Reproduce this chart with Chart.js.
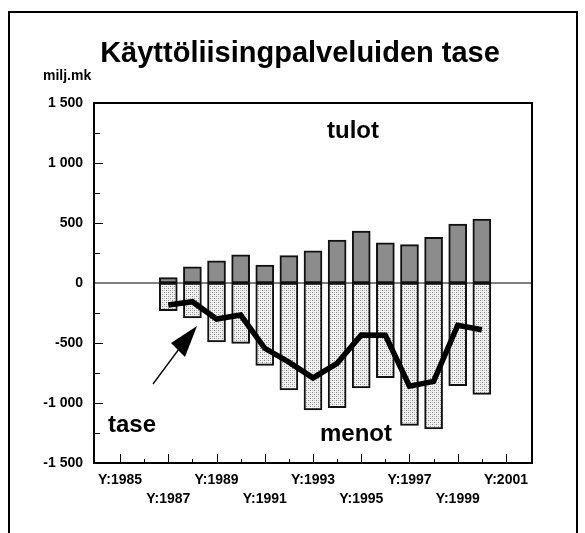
<!DOCTYPE html>
<html>
<head>
<meta charset="utf-8">
<script src="https://cdn.jsdelivr.net/npm/chart.js@4/dist/chart.umd.min.js"></script>
<style>
  html, body { margin: 0; padding: 0; background: #fff; }
  #wrap { width: 585px; height: 533px; }
</style>
</head>
<body>
<div id="wrap"><canvas id="c" width="585" height="533"></canvas></div>
<script>
// Vuodet ja arvot (milj. mk)
const years = [1987, 1988, 1989, 1990, 1991, 1992, 1993, 1994, 1995, 1996, 1997, 1998, 1999, 2000];
const tulot = [45, 135, 185, 235, 150, 228, 268, 358, 432, 335, 320, 380, 490, 532];
const menot = [-230, -292, -490, -503, -686, -892, -1058, -1039, -875, -789, -1186, -1217, -855, -928];
const tase = [-183, -156, -300, -267, -544, -660, -791, -669, -433, -435, -860, -820, -352, -390];

// Akselien jakopisteet
const xTickYears = [1985, 1986, 1987, 1988, 1989, 1990, 1991, 1992, 1993, 1994, 1995, 1996, 1997, 1998, 1999, 2000, 2001];
const yTickStep = 250;
const yLabelStep = 500;

const TITLE = 'Käyttöliisingpalveluiden tase';
const UNIT = 'milj.mk';
const FONT = '"Liberation Sans", Arial, Helvetica, sans-serif';

// Pistekuvio menopylväille
function stipple() {
  const p = document.createElement('canvas');
  p.width = 4; p.height = 4;
  const g = p.getContext('2d');
  g.fillStyle = '#f2f2f2';
  g.fillRect(0, 0, 4, 4);
  g.fillStyle = '#8a8a8a';
  g.fillRect(0, 0, 1, 1);
  g.fillRect(2, 2, 1, 1);
  g.fillStyle = '#c4c4c4';
  g.fillRect(2, 0, 1, 1);
  g.fillRect(0, 2, 1, 1);
  return g.createPattern(p, 'repeat');
}

function fmtThousands(v) {
  const s = String(Math.abs(v)).replace(/\B(?=(\d{3})+(?!\d))/g, ' ');
  return (v < 0 ? '-' : '') + s;
}

// Kehys, otsikko, nollaviiva, sisäänpäin osoittavat jakoviivat ja tekstit
const decorations = {
  id: 'decorations',
  beforeDraw(chart) {
    const ctx = chart.ctx;
    ctx.save();
    ctx.fillStyle = '#fff';
    ctx.fillRect(0, 0, chart.width, chart.height);
    ctx.strokeStyle = '#000';
    ctx.lineWidth = 2;
    ctx.beginPath();
    ctx.moveTo(9, chart.height + 2);
    ctx.lineTo(9, 12);
    ctx.lineTo(577, 12);
    ctx.lineTo(577, chart.height + 2);
    ctx.stroke();

    ctx.fillStyle = '#000';
    ctx.textBaseline = 'alphabetic';
    ctx.textAlign = 'center';
    ctx.font = 'bold 29px ' + FONT;
    ctx.fillText(TITLE, 300, 62);
    ctx.textAlign = 'left';
    ctx.font = 'bold 14px ' + FONT;
    ctx.fillText(UNIT, 43, 80);
    ctx.restore();
  },
  beforeDatasetsDraw(chart) {
    const ctx = chart.ctx;
    const a = chart.chartArea;
    const xs = chart.scales.x, ys = chart.scales.y;
    ctx.save();
    ctx.strokeStyle = '#000';
    ctx.lineWidth = 1.2;
    // nollaviiva
    const y0 = ys.getPixelForValue(0);
    ctx.beginPath();
    ctx.moveTo(a.left, y0);
    ctx.lineTo(a.right, y0);
    ctx.stroke();
    // y-akselin jakoviivat
    ctx.lineWidth = 1;
    ys.ticks.forEach(t => {
      if (t.value === 0 || Math.abs(t.value) >= 1500) return;
      const py = Math.round(ys.getPixelForValue(t.value)) + 0.5;
      const len = t.value % yLabelStep === 0 ? 9 : 6;
      ctx.beginPath();
      ctx.moveTo(a.left, py);
      ctx.lineTo(a.left + len, py);
      ctx.stroke();
    });
    // x-akselin jakoviivat
    xs.ticks.forEach(t => {
      const px = Math.round(xs.getPixelForValue(t.value)) + 0.5;
      const len = (t.value - 1985) % 2 === 0 ? 9 : 4;
      ctx.beginPath();
      ctx.moveTo(px, a.bottom);
      ctx.lineTo(px, a.bottom - len);
      ctx.stroke();
    });
    ctx.restore();
  },
  afterDraw(chart) {
    const ctx = chart.ctx;
    const a = chart.chartArea;
    ctx.save();
    ctx.strokeStyle = '#000';
    ctx.lineWidth = 2;
    ctx.strokeRect(a.left, a.top, a.right - a.left, a.bottom - a.top);

    ctx.fillStyle = '#000';
    ctx.textBaseline = 'alphabetic';
    ctx.textAlign = 'left';
    ctx.font = 'bold 24px ' + FONT;
    ctx.fillText('tulot', 327, 138);
    ctx.fillText('menot', 320, 441);
    ctx.fillText('tase', 108, 432);

    // nuoli kohti tase-viivaa
    ctx.lineWidth = 1.3;
    ctx.beginPath();
    ctx.moveTo(153, 384);
    ctx.lineTo(179, 349);
    ctx.stroke();
    ctx.beginPath();
    ctx.moveTo(197, 326);
    ctx.lineTo(171, 343);
    ctx.lineTo(185, 357);
    ctx.closePath();
    ctx.fill();
    ctx.restore();
  }
};

new Chart(document.getElementById('c'), {
  type: 'bar',
  data: {
    labels: years,
    datasets: [
      {
        type: 'line',
        label: 'tase',
        data: years.map((y, i) => ({ x: y, y: tase[i] })),
        borderColor: '#000',
        borderWidth: 5.5,
        pointRadius: 0,
        tension: 0,
        fill: false,
        order: 0
      },
      {
        label: 'tulot',
        data: years.map((y, i) => ({ x: y, y: tulot[i] })),
        backgroundColor: '#8c8c8c',
        borderColor: '#111',
        borderWidth: 2,
        borderSkipped: false,
        barThickness: 18,
        grouped: false,
        order: 1
      },
      {
        label: 'menot',
        data: years.map((y, i) => ({ x: y, y: menot[i] })),
        backgroundColor: stipple(),
        borderColor: '#111',
        borderWidth: 2,
        borderSkipped: false,
        barThickness: 18,
        grouped: false,
        order: 2
      }
    ]
  },
  options: {
    responsive: false,
    animation: false,
    layout: { padding: { left: 0, right: 53, top: 103, bottom: 0 } },
    plugins: {
      legend: { display: false },
      tooltip: { enabled: false },
      title: { display: false }
    },
    scales: {
      x: {
        type: 'linear',
        min: 1983.92,
        max: 2002.08,
        offset: false,
        grid: { display: false, drawTicks: false },
        border: { display: false },
        afterBuildTicks(scale) {
          scale.ticks = xTickYears.map(v => ({ value: v }));
        },
        afterFit(scale) { scale.height = 70; },
        ticks: {
          autoSkip: false,
          maxRotation: 0,
          padding: 8,
          color: '#000',
          font: { family: FONT, size: 14, weight: 'bold', lineHeight: 1.36 },
          callback(v) {
            const d = v - 1985;
            if (d % 2 !== 0) return '';
            return (d / 2) % 2 === 0 ? ['Y:' + v] : ['', 'Y:' + v];
          }
        }
      },
      y: {
        min: -1500,
        max: 1500,
        grid: { display: false, drawTicks: false },
        border: { display: false },
        afterFit(scale) { scale.width = 94; },
        ticks: {
          stepSize: yTickStep,
          autoSkip: false,
          padding: 11,
          color: '#000',
          font: { family: FONT, size: 14, weight: 'bold' },
          callback(v) {
            return v % yLabelStep === 0 ? fmtThousands(v) : '';
          }
        }
      }
    }
  },
  plugins: [decorations]
});
</script>
</body>
</html>
